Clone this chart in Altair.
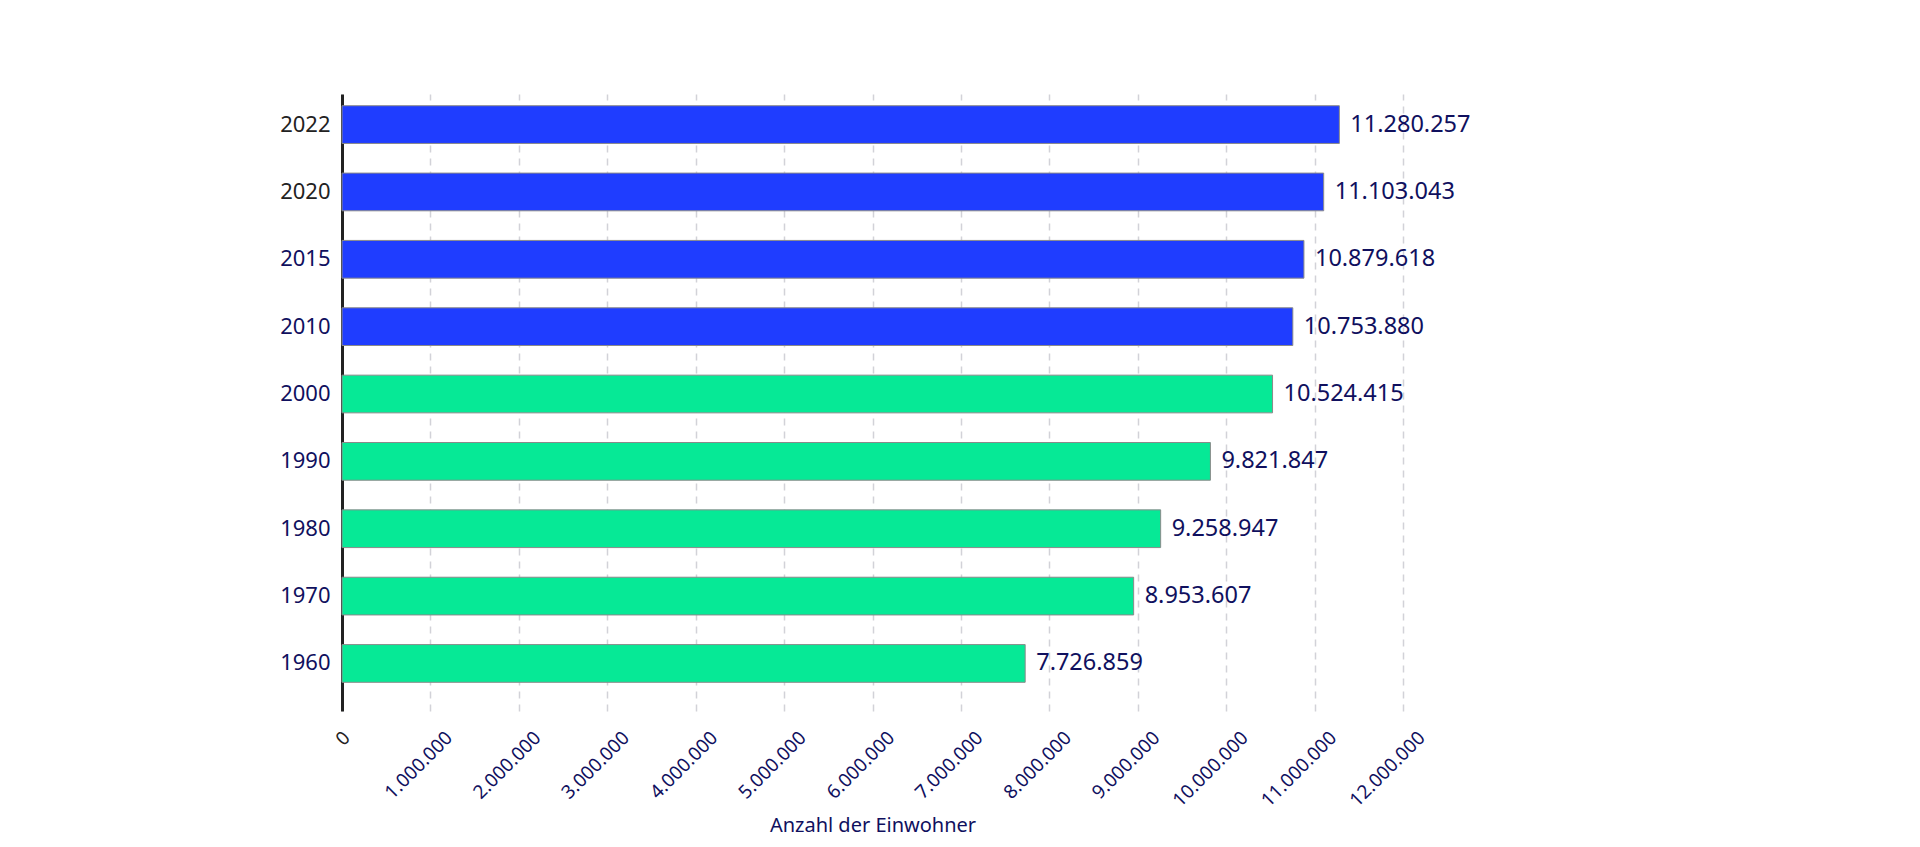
import altair as alt
import pandas as pd

years = ["2022", "2020", "2015", "2010", "2000", "1990", "1980", "1970", "1960"]
population = [11280257, 11103043, 10879618, 10753880, 10524415, 9821847, 9258947, 8953607, 7726859]
bar_colors = ["#1f3dff", "#1f3dff", "#1f3dff", "#1f3dff",
              "#06e996", "#06e996", "#06e996", "#06e996", "#06e996"]
x_ticks = [0, 1000000, 2000000, 3000000, 4000000, 5000000, 6000000,
           7000000, 8000000, 9000000, 10000000, 11000000, 12000000]

df = pd.DataFrame({"Jahr": years, "Einwohner": population, "Farbe": bar_colors})

NAVY = "#10105e"
DARK = "#222222"
FONT = "Noto Sans"

y_enc = alt.Y(
    "Jahr:N",
    sort=years,
    title=None,
    scale=alt.Scale(paddingInner=0.44, paddingOuter=0.3, align=0.29),
    axis=alt.Axis(
        ticks=False,
        domain=True,
        domainColor=DARK,
        domainWidth=3,
        labelFontSize=22,
        labelFont=FONT,
        labelPadding=12,
        labelColor={"condition": {"test": "datum.value == '2022' || datum.value == '2020'",
                                  "value": DARK}, "value": NAVY},
        grid=False,
    ),
)

x_enc = alt.X(
    "Einwohner:Q",
    scale=alt.Scale(domain=[0, 12000000], nice=False),
    title="Anzahl der Einwohner",
    axis=alt.Axis(
        values=x_ticks,
        labelExpr="format(datum.value, ',')",
        domain=False,
        ticks=False,
        grid=True,
        gridColor="#d2d2d8",
        gridDash=[7, 6],
        gridWidth=1.5,
        labelAngle=315,
        labelAlign="right",
        labelBaseline="top",
        labelPadding=17,
        labelOffset={"condition": {"test": "datum.value == 0", "value": -2}, "value": 12},
        labelFontSize=19,
        labelFont=FONT,
        labelColor={"condition": {"test": "datum.value == 0", "value": DARK}, "value": NAVY},
        titleFont=FONT,
        titleFontSize=20,
        titleFontWeight="normal",
        titleColor=NAVY,
        titleY=114,
        titleBaseline="middle",
    ),
)

bars = alt.Chart(df).mark_bar(stroke="#8a8a8a", strokeWidth=1).encode(
    x=x_enc,
    y=y_enc,
    color=alt.Color("Farbe:N", scale=None),
)

labels = alt.Chart(df).transform_calculate(
    txt="format(datum.Einwohner, ',')"
).mark_text(
    align="left", baseline="middle", dx=11, fontSize=23.5, font=FONT, color=NAVY
).encode(
    x=alt.X("Einwohner:Q"),
    y=alt.Y("Jahr:N", sort=years),
    text="txt:N",
)

chart = (bars + labels).properties(
    width=1061,
    height=617,
    background="white",
    autosize=alt.AutoSizeParams(type="none"),
    padding={"left": 334, "top": 86, "right": 500, "bottom": 128},
).configure_view(stroke=None)

chart.save(
    "out.html",
    embed_options={
        "renderer": "svg",
        "actions": False,
        "formatLocale": {"decimal": ",", "thousands": ".", "grouping": [3], "currency": ["", " €"]},
    },
)
